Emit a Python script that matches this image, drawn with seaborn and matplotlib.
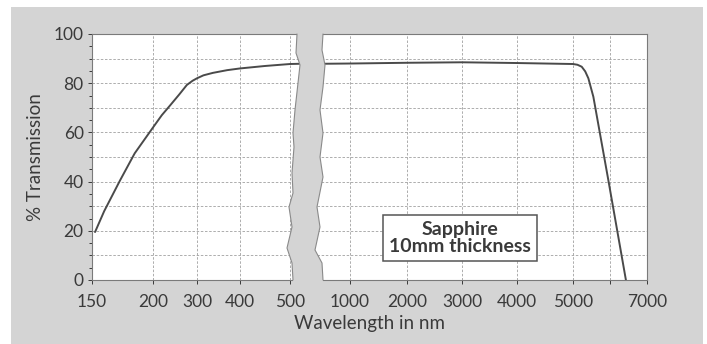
import numpy as np
import pandas as pd
import matplotlib
matplotlib.use("Agg")
import matplotlib.pyplot as plt
import seaborn as sns
from matplotlib.patches import Rectangle, Polygon
from matplotlib.ticker import MultipleLocator

# transmission curve
wavelength = [152.5, 160, 173, 185, 200, 220, 239, 260, 277, 290, 300, 315, 337,
              370, 400, 450, 500, 530,
              545, 1000, 2000, 3000, 4000, 5000, 5120, 5235, 5330, 5415, 5550,
              5955, 6430]
transmission = [19.5, 28.0, 40.5, 51.5, 62, 67, 71, 75.5, 79.3, 81, 82, 83.2, 84.2,
                85.3, 86, 87, 87.8, 87.9,
                87.9, 88.0, 88.3, 88.5, 88.2, 87.8, 87.5, 86.7, 84.8, 82, 74.5,
                40.6, 0]

tick_values = [150, 200, 300, 400, 500, 1000, 2000, 3000, 4000, 5000, 6000, 7000]
tick_labels = ["150", "200", "300", "400", "500", "1000", "2000", "3000",
               "4000", "5000", "", "7000"]

# broken, uneven axis of the original chart: wavelength -> drawing position
scale_wl = [150, 200, 300, 400, 500, 530, 545, 1000, 2000, 3000, 4000, 5000, 6000, 7000]
scale_pos = [92, 153, 197, 240, 290, 300, 323, 350, 407, 462, 517, 573, 610, 647]


def fwd(x):
    return np.interp(x, scale_wl, scale_pos)


def inv(p):
    return np.interp(p, scale_pos, scale_wl)


df = pd.DataFrame({"wavelength": wavelength, "transmission": transmission})

sns.set_theme(style="white")
plt.rcParams["font.family"] = ["Lato", "DejaVu Sans"]

BG = "#d4d4d4"
INK = "#3a3a3a"
LINE = "#4a4a4a"
GRID = "#a0a0a0"

fig = plt.figure(figsize=(7.07, 3.44), dpi=100, facecolor="white")
fig.patches.append(Rectangle((11 / 707, 0), 692 / 707, 337 / 344,
                             transform=fig.transFigure, facecolor=BG,
                             edgecolor="none", zorder=-1))

ax = fig.add_axes([92 / 707, 64 / 344, 555 / 707, 246 / 344])
ax.set_facecolor("white")
ax.set_xscale("function", functions=(fwd, inv))
ax.set_xlim(150, 7000)
ax.set_ylim(0, 100)

sns.lineplot(data=df, x="wavelength", y="transmission", sort=False,
             estimator=None, color=LINE, lw=1.4, ax=ax, zorder=3)

# grid
for v in tick_values[1:-1]:
    ax.axvline(v, color=GRID, lw=0.6, ls=(0, (3, 2)), zorder=1)
for h in range(10, 100, 10):
    ax.axhline(h, color=GRID, lw=0.6, ls=(0, (3, 2)), zorder=1)

ax.set_xticks(tick_values)
ax.set_xticklabels(tick_labels)
ax.yaxis.set_major_locator(MultipleLocator(20))
ax.yaxis.set_minor_locator(MultipleLocator(5))
ax.tick_params(axis="both", which="both", direction="out", colors=INK,
               length=3, width=0.7, labelsize=12.5)
ax.tick_params(axis="y", which="minor", length=2, left=True)
ax.tick_params(axis="x", pad=7, bottom=True)
ax.tick_params(axis="y", pad=3, left=True)
for t in ax.get_xticklabels() + ax.get_yticklabels():
    t.set_color(INK)

for s in ax.spines.values():
    s.set_color("#7a7a7a")
    s.set_linewidth(0.8)

ax.set_xlabel("Wavelength in nm", fontsize=13.5, color=INK, labelpad=4)
ax.set_ylabel("% Transmission", fontsize=13.5, color=INK, labelpad=7)

# axis break band (drawn in pixel layout of the axes)
left_y = [34, 53, 65, 83, 110, 133, 147, 173, 193, 207, 227, 248, 263, 280]
left_x = [297, 296, 300, 298, 295, 293, 294, 292, 293, 289, 292, 287, 292, 293]
right_y = [34, 50, 65, 87, 110, 133, 157, 177, 207, 227, 250, 263, 280]
right_x = [323, 322, 325, 323, 320, 323, 320, 323, 317, 320, 315, 322, 323]


def to_ax(xs, ys):
    return [((x - 92) / 555, (280 - y) / 246) for x, y in zip(xs, ys)]


lpts = to_ax(left_x, left_y)
rpts = to_ax(right_x, right_y)
poly = [(lpts[0][0], 1.03)] + lpts + [(lpts[-1][0], -0.03), (rpts[-1][0], -0.03)] \
    + rpts[::-1] + [(rpts[0][0], 1.03)]
ax.add_patch(Polygon(poly, closed=True, transform=ax.transAxes, facecolor=BG,
                     edgecolor="none", zorder=4, clip_on=False))
for pts in (lpts, rpts):
    xs, ys = zip(*pts)
    ax.plot(xs, ys, transform=ax.transAxes, color="#8a8a8a", lw=0.8, zorder=5,
            clip_on=False)

ax.text(0.663, 0.171, "Sapphire\n10mm thickness", transform=ax.transAxes,
        ha="center", va="center", fontsize=14, fontweight="bold", color=INK,
        linespacing=1.0, zorder=6,
        bbox=dict(boxstyle="square,pad=0.33", facecolor="white",
                  edgecolor="#555555", lw=1.1))

fig.savefig("out.png", dpi=100, facecolor=fig.get_facecolor())
